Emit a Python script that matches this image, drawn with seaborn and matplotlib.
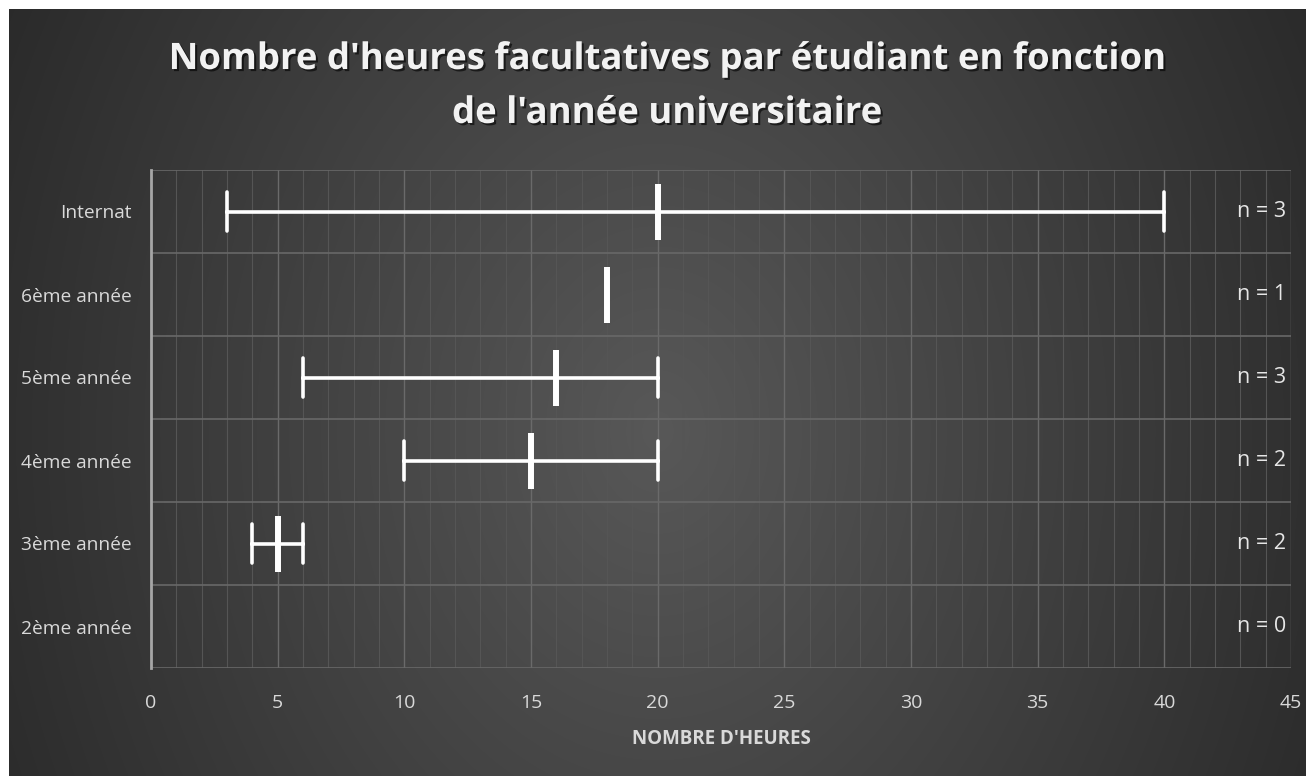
import numpy as np
import pandas as pd
import matplotlib
matplotlib.use("Agg")
import matplotlib.pyplot as plt
import matplotlib.patheffects as pe
from matplotlib.ticker import MultipleLocator
import seaborn as sns

# Données : heures facultatives déclarées par étudiant, par année
annees = ["Internat", "6ème année", "5ème année", "4ème année", "3ème année", "2ème année"]
heures_internat = [3, 20, 40]
heures_6eme = [18]
heures_5eme = [6, 16, 20]
heures_4eme = [10, 20]
heures_3eme = [4, 6]
heures_2eme = []
x_ticks = [0, 5, 10, 15, 20, 25, 30, 35, 40, 45]

titre = "Nombre d'heures facultatives par étudiant en fonction\nde l'année universitaire"
xlabel = "NOMBRE D'HEURES"


def main():
    groupes = [heures_internat, heures_6eme, heures_5eme, heures_4eme, heures_3eme, heures_2eme]
    df = pd.DataFrame(
        [(a, h) for a, vals in zip(annees, groupes) for h in vals],
        columns=["annee", "heures"],
    )

    sns.set_style("dark")
    plt.rcParams["font.family"] = ["Open Sans", "DejaVu Sans"]
    txt = "#d9d9d9"

    fig = plt.figure(figsize=(13.06, 7.76), dpi=100, facecolor="white")

    # fond dégradé radial façon Excel
    bg = fig.add_axes([9 / 1306, 0, 1 - 9 / 1306, 1 - 9 / 776], zorder=0)
    h, w = 767, 1297
    yy, xx = np.mgrid[0:h, 0:w]
    r = np.sqrt(((xx - 0.5 * w) / (0.6 * w)) ** 2 + ((yy - 0.55 * h) / (1.3 * h)) ** 2)
    c = np.clip(0.345 - 0.19 * r, 0.14, 0.4)
    bg.imshow(np.dstack([c, c, c]), aspect="auto", interpolation="bilinear")
    bg.axis("off")

    ax = fig.add_axes([151 / 1306, 1 - 668 / 776, 1140 / 1306, 498 / 776], zorder=1)
    ax.set_facecolor("none")

    sns.pointplot(
        data=df, x="heures", y="annee", order=annees, ax=ax,
        estimator="median", errorbar=("pi", 100), capsize=0.46,
        color="white", marker="|", markersize=41, markeredgewidth=4.3,
        linestyle="none", err_kws={"linewidth": 2.6},
    )

    ax.set_xlim(0, 45)
    ax.set_ylim(5.5, -0.5)
    ax.set_xticks(x_ticks)
    ax.xaxis.set_minor_locator(MultipleLocator(1))
    ax.set_yticks(range(len(annees)))
    ax.set_yticklabels(annees)
    ax.set_yticks(np.arange(-0.5, len(annees), 1), minor=True)

    ax.grid(which="major", axis="x", color="#6a6a6a", linewidth=1.0)
    ax.grid(which="minor", axis="x", color="#555555", linewidth=0.8)
    ax.grid(which="minor", axis="y", color="#686868", linewidth=1.2)
    ax.grid(which="major", axis="y", visible=False)
    ax.set_axisbelow(True)

    for s in ["top", "right", "bottom"]:
        ax.spines[s].set_visible(False)
    ax.spines["left"].set_color("#a6a6a6")
    ax.spines["left"].set_linewidth(2.0)

    ax.tick_params(axis="both", which="both", length=0)
    ax.tick_params(axis="x", labelsize=14, colors=txt, pad=19)
    ax.tick_params(axis="y", labelsize=13.8, colors=txt, pad=14)
    ax.set_ylabel("")
    ax.set_xlabel(xlabel, fontsize=13.5, fontweight="bold", color=txt, labelpad=12)

    for i, vals in enumerate(groupes):
        ax.text(44.8, i, f"n = {len(vals)}", ha="right", va="center",
                fontsize=15.5, color="#e6e6e6")

    fig.text(667 / 1306, 1 - 86 / 776, titre, ha="center", va="center",
             fontsize=26.3, fontweight="bold", color="#f2f2f2", linespacing=1.55,
             path_effects=[pe.withSimplePatchShadow(offset=(1.5, -1.5), shadow_rgbFace="black", alpha=0.6)])

    fig.savefig("out.png", dpi=100, facecolor=fig.get_facecolor())
    plt.close(fig)


if __name__ == "__main__":
    main()
